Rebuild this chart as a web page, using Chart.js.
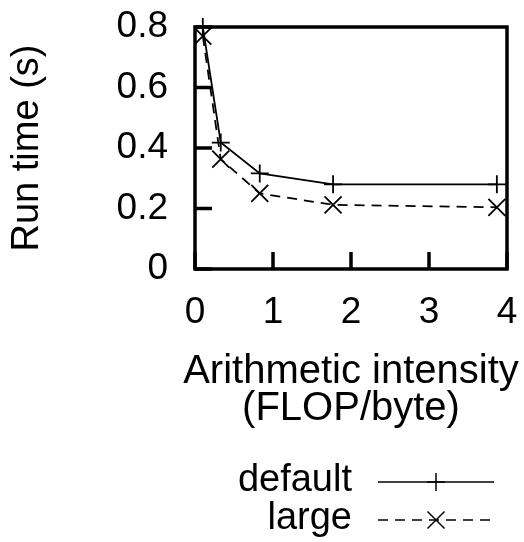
<!DOCTYPE html>
<html>
<head>
<meta charset="utf-8">
<script src="https://cdn.jsdelivr.net/npm/chart.js"></script>
<style>
  html, body { margin: 0; padding: 0; background: #fff; }
  canvas { display: block; }
</style>
</head>
<body>
<canvas id="runChart" width="524" height="542"></canvas>
<script>
const intensity = [0.1, 0.33, 0.83, 1.77, 3.87];
const defaultRuntime = [0.8, 0.418, 0.316, 0.28, 0.28];
const largeRuntime = [0.77, 0.363, 0.25, 0.212, 0.204];
const xTickLabels = ["0", "1", "2", "3", "4"];
const yTickLabels = ["0", "0.2", "0.4", "0.6", "0.8"];
const seriesNames = ["default", "large"];
const xTitleLines = ["Arithmetic intensity", "(FLOP/byte)"];

const FONT = '"Liberation Sans", Arial, Helvetica, sans-serif';
Chart.defaults.font.family = FONT;
Chart.defaults.font.size = 37;
Chart.defaults.color = "#000";

function toPoints(ys) {
  return intensity.map((x, i) => ({ x: x, y: ys[i] }));
}

// gnuplot-like frame with inward ticks
const framePlugin = {
  id: "frame",
  afterDatasetsDraw(chart) {
    const { ctx, chartArea: a } = chart;
    const xs = chart.scales.x;
    const ys = chart.scales.y;
    ctx.save();
    ctx.strokeStyle = "#000";
    ctx.lineWidth = 3.5;
    ctx.beginPath();
    xTickLabels.forEach((t) => {
      const px = xs.getPixelForValue(parseFloat(t));
      ctx.moveTo(px, a.bottom);
      ctx.lineTo(px, a.bottom - 17);
    });
    yTickLabels.forEach((t) => {
      const py = ys.getPixelForValue(parseFloat(t));
      ctx.moveTo(a.left, py);
      ctx.lineTo(a.left + 17, py);
    });
    ctx.stroke();
    ctx.strokeRect(a.left, a.top, a.right - a.left, a.bottom - a.top);
    ctx.restore();
  },
};

// x axis title, drawn without the scale's maxWidth squeeze
const xTitlePlugin = {
  id: "xTitle",
  afterDraw(chart) {
    const { ctx, chartArea: a } = chart;
    const cx = (a.left + a.right) / 2;
    ctx.save();
    ctx.font = "40px " + FONT;
    ctx.fillStyle = "#000";
    ctx.textAlign = "center";
    ctx.textBaseline = "alphabetic";
    ctx.fillText(xTitleLines[0], cx, a.bottom + 114);
    ctx.fillText(xTitleLines[1], cx, a.bottom + 151);
    ctx.restore();
  },
};

// legend: text on the left, line sample with marker on the right
const keyPlugin = {
  id: "key",
  afterDraw(chart) {
    const { ctx } = chart;
    const rows = [482, 520];
    ctx.save();
    ctx.font = "38px " + FONT;
    ctx.fillStyle = "#000";
    ctx.textAlign = "right";
    ctx.textBaseline = "alphabetic";
    chart.data.datasets.forEach((ds, i) => {
      const y = rows[i];
      ctx.fillText(seriesNames[i], 352, y + 9);
      ctx.strokeStyle = "#000";
      ctx.lineWidth = 1.5;
      ctx.setLineDash(ds.borderDash || []);
      ctx.beginPath();
      ctx.moveTo(378, y);
      ctx.lineTo(494, y);
      ctx.stroke();
      ctx.setLineDash([]);
      const cx = 436;
      ctx.beginPath();
      if (ds.pointStyle === "cross") {
        ctx.moveTo(cx, y - 9);
        ctx.lineTo(cx, y + 9);
        ctx.moveTo(cx - 9, y);
        ctx.lineTo(cx + 9, y);
      } else {
        const r = 8.5;
        ctx.moveTo(cx - r, y - r);
        ctx.lineTo(cx + r, y + r);
        ctx.moveTo(cx - r, y + r);
        ctx.lineTo(cx + r, y - r);
      }
      ctx.stroke();
    });
    ctx.restore();
  },
};

new Chart(document.getElementById("runChart"), {
  type: "line",
  data: {
    datasets: [
      {
        label: seriesNames[0],
        data: toPoints(defaultRuntime),
        borderColor: "#000",
        borderWidth: 1.8,
        pointStyle: "cross",
        pointRadius: 9,
        pointBorderWidth: 1.8,
        pointBorderColor: "#000",
        tension: 0,
        clip: false,
      },
      {
        label: seriesNames[1],
        data: toPoints(largeRuntime),
        borderColor: "#000",
        borderWidth: 1.8,
        borderDash: [10, 7],
        pointStyle: "crossRot",
        pointRadius: 12,
        pointBorderWidth: 1.8,
        pointBorderColor: "#000",
        tension: 0,
        clip: false,
      },
    ],
  },
  options: {
    responsive: false,
    animation: false,
    layout: { padding: { left: 0, top: 27, right: 17, bottom: 102 } },
    plugins: { legend: { display: false }, tooltip: { enabled: false } },
    scales: {
      x: {
        type: "linear",
        min: 0,
        max: 4,
        grid: { display: false, drawTicks: false },
        border: { display: false },
        ticks: {
          stepSize: 1,
          padding: 22,
          maxRotation: 0,
          callback: (v, i) => xTickLabels[i],
        },
        afterFit(scale) {
          scale.height = 171;
          scale.paddingLeft = 0;
          scale.paddingRight = 0;
        },
      },
      y: {
        type: "linear",
        min: 0,
        max: 0.8,
        grid: { display: false, drawTicks: false },
        border: { display: false },
        ticks: {
          stepSize: 0.2,
          padding: 27,
          callback: (v, i) => yTickLabels[i],
        },
        title: {
          display: true,
          text: "Run time (s)",
          font: { size: 38, lineHeight: 1.05 },
          padding: { top: 8, bottom: 0 },
        },
        afterFit(scale) {
          scale.width = 195;
          scale.paddingTop = 0;
          scale.paddingBottom = 0;
        },
      },
    },
  },
  plugins: [framePlugin, xTitlePlugin, keyPlugin],
});
</script>
</body>
</html>
